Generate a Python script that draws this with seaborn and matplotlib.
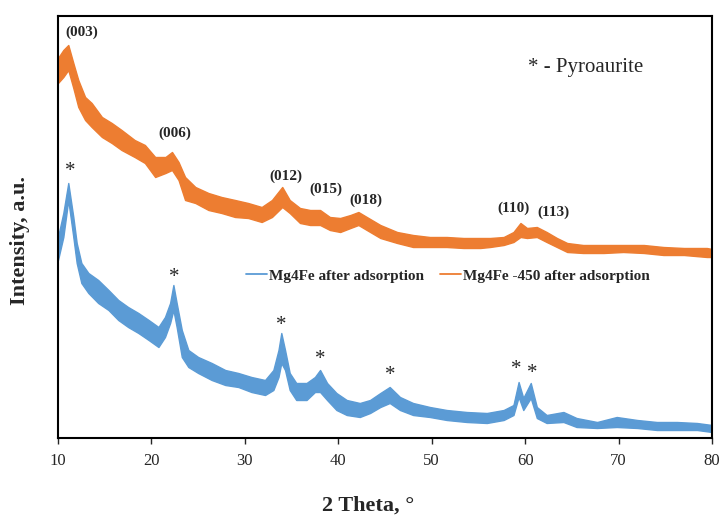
import matplotlib
matplotlib.use("Agg")
import matplotlib.pyplot as plt
import pandas as pd
import seaborn as sns

# XRD patterns: 2-theta (degrees) and the upper / lower edge of each noisy trace (a.u.)
two_theta_blue = [10.0, 10.57, 11.1, 11.64, 12.0, 12.5, 13.25, 14.3, 15.4, 16.45, 17.5, 18.6,
                  19.7, 20.75, 21.45, 22.0, 22.35, 22.7, 23.25, 23.95, 25.0, 26.45, 27.9, 29.3,
                  30.7, 32.16, 33.05, 33.6, 33.9, 34.3, 34.8, 35.5, 36.6, 37.5, 38.05, 38.8,
                  39.8, 40.9, 42.3, 43.4, 44.5, 45.5, 46.6, 48.0, 49.8, 51.6, 53.75, 55.9,
                  57.7, 58.75, 59.3, 59.8, 60.6, 61.25, 62.3, 64.1, 65.5, 67.7, 69.8, 72.0,
                  74.1, 76.25, 78.4, 80.0]
blue_upper = [201, 225, 255, 221, 195, 175, 165, 158, 148, 138, 131, 125,
              118, 111, 121, 135, 153, 135, 108, 88, 81, 75, 68, 65,
              61, 58, 68, 88, 105, 88, 65, 55, 55, 61, 68, 55,
              45, 38, 35, 38, 45, 51, 41, 35, 31, 28, 26, 25,
              28, 33, 56, 40, 55, 31, 23, 26, 20, 16, 21, 18,
              16, 16, 15, 13]
blue_lower = [178, 201, 238, 201, 175, 155, 145, 135, 128, 118, 111, 105,
              98, 91, 101, 115, 128, 111, 81, 71, 65, 58, 53, 51,
              46, 43, 48, 61, 75, 68, 48, 38, 38, 46, 46, 38,
              28, 23, 21, 25, 31, 35, 28, 23, 21, 18, 16, 15,
              18, 23, 41, 28, 40, 20, 15, 16, 11, 10, 11, 10,
              8, 8, 8, 6]

two_theta_orange = [10.0, 10.57, 11.1, 11.64, 12.17, 12.9, 13.6, 14.7, 15.75, 16.8, 18.2, 19.3,
                    20.4, 21.5, 22.2, 22.9, 23.6, 24.7, 26.1, 27.5, 28.95, 30.35, 31.8, 32.9,
                    34.0, 34.8, 35.9, 36.98, 38.05, 39.1, 40.2, 41.3, 42.15, 43.05, 44.5, 46.3,
                    48.0, 49.8, 51.6, 53.4, 55.2, 56.25, 57.7, 58.75, 59.5, 60.2, 61.25, 62.3,
                    63.4, 64.5, 66.2, 68.4, 70.5, 72.7, 74.8, 77.0, 79.45, 80.0]
orange_upper = [380, 388, 393, 375, 358, 341, 335, 321, 315, 308, 298, 293,
                281, 281, 286, 276, 261, 251, 245, 241, 238, 235, 231, 238,
                251, 238, 230, 228, 228, 221, 220, 223, 226, 221, 213, 206,
                203, 201, 201, 200, 200, 200, 201, 206, 215, 210, 211, 206,
                200, 195, 193, 193, 193, 193, 191, 190, 190, 189]
orange_lower = [355, 361, 368, 350, 331, 318, 311, 301, 295, 288, 281, 275,
                261, 265, 268, 258, 238, 235, 228, 225, 221, 220, 216, 221,
                231, 225, 215, 213, 213, 208, 206, 210, 213, 208, 200, 195,
                191, 191, 191, 190, 190, 191, 193, 196, 201, 200, 201, 196,
                191, 186, 185, 185, 186, 185, 183, 183, 181, 181]

series_names = ["Mg4Fe after adsorption", "Mg4Fe -450 after adsorption"]
series_colors = ["#5B9BD5", "#ED7D31"]

x_ticks = [10, 20, 30, 40, 50, 60, 70, 80]

# Reflection labels of the calcined sample and pyroaurite markers of the fresh one
hkl_labels = ["(003)", "(006)", "(012)", "(015)", "(018)", "(110)", "(113)"]
hkl_pos = [(12.57, 406), (22.5, 305), (34.4, 262), (38.7, 249), (42.9, 238), (58.8, 230), (63.05, 226)]
star_pos = [(11.3, 271), (22.4, 165), (33.9, 118), (38.05, 84), (45.55, 68), (59.0, 73), (60.8, 69)]

sns.set_style("ticks")
plt.rcParams["font.family"] = ["Liberation Serif", "DejaVu Sans"]

frames = []
for name, tt, up, lo in [(series_names[0], two_theta_blue, blue_upper, blue_lower),
                         (series_names[1], two_theta_orange, orange_upper, orange_lower)]:
    df = pd.DataFrame({"two_theta": tt, "upper": up, "lower": lo})
    df["intensity"] = (df["upper"] + df["lower"]) / 2
    df["sample"] = name
    frames.append(df)
data = pd.concat(frames, ignore_index=True)

fig = plt.figure(figsize=(7.21, 5.18), dpi=100)
ax = fig.add_axes([58 / 721, 80 / 518, 654 / 721, 422 / 518])

sns.lineplot(data=data, x="two_theta", y="intensity", hue="sample",
             hue_order=series_names, palette=series_colors, linewidth=1.3, ax=ax)
for name, color in zip(series_names, series_colors):
    sub = data[data["sample"] == name]
    ax.fill_between(sub["two_theta"], sub["lower"], sub["upper"], color=color,
                    linewidth=1.0, edgecolor=color)

for lab, (x, y) in zip(hkl_labels, hkl_pos):
    ax.text(x, y, lab, ha="center", va="center", fontsize=11, fontweight="bold")
for x, y in star_pos:
    ax.text(x, y - 5, "*", ha="center", va="center", fontsize=15)
ax.text(66.5, 370, "* - Pyroaurite", ha="center", va="center", fontsize=15)

ax.set_xlim(10, 80)
ax.set_ylim(0, 422)
ax.set_xticks(x_ticks)
ax.set_yticks([])
ax.tick_params(axis="x", direction="out", length=4, width=1, labelsize=12, pad=7)

for side in ["left", "right", "top", "bottom"]:
    ax.spines[side].set_visible(True)
    ax.spines[side].set_linewidth(1.5)
    ax.spines[side].set_color("black")

ax.set_xlabel("2 Theta, °", fontsize=16, fontweight="bold")
ax.set_ylabel("Intensity, a.u.", fontsize=16, fontweight="bold")
ax.xaxis.label.set_va("center")
ax.yaxis.label.set_va("center")
ax.xaxis.set_label_coords(0.474, -0.159)
ax.yaxis.set_label_coords(-0.058, 0.467)

handles, labels = ax.get_legend_handles_labels()
ax.legend(handles, labels, loc="center", bbox_to_anchor=(0.596, 0.384), ncol=2,
          frameon=False, prop={"weight": "bold", "size": 11},
          handlelength=1.4, handletextpad=0.15, columnspacing=1.0)

fig.savefig("out.png", dpi=100, facecolor="white")
